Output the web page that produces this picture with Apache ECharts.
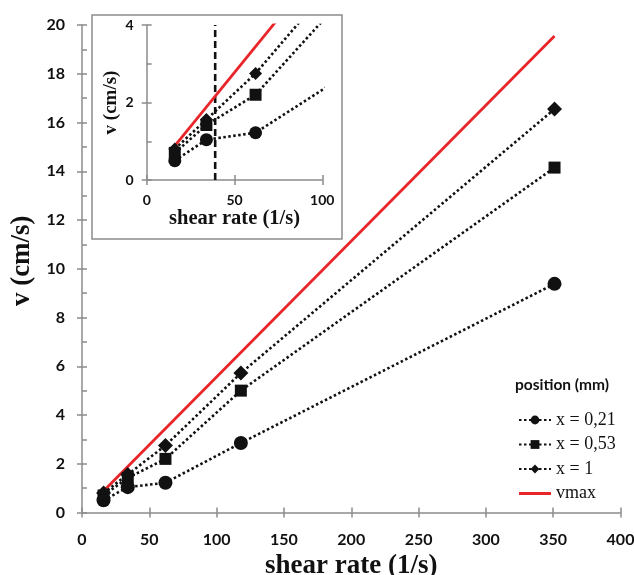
<!DOCTYPE html>
<html><head><meta charset="utf-8">
<script src="https://cdn.jsdelivr.net/npm/echarts@6/dist/echarts.min.js"></script>
<style>html,body{margin:0;padding:0;background:#fff}#c{width:634px;height:575px}</style>
</head><body><div id="c"></div>
<script>
// ---- data ----
const shearRate = [16, 34, 62, 118, 351];
const v021 = [0.50, 1.04, 1.22, 2.85, 9.38];
const v053 = [0.70, 1.42, 2.20, 5.00, 14.15];
const v1   = [0.80, 1.56, 2.75, 5.72, 16.55];
const vmaxX = [16, 351];
const vmaxY = [0.88, 19.55];
const thresholdX = 39;
const thresholdY = [0, 4];
const seriesNames = ['x = 0,21', 'x = 0,53', 'x = 1', 'vmax'];
const legendTitle = 'position (mm)';
const xTitle = 'shear rate (1/s)';
const yTitle = 'v (cm/s)';

const pairs = (xs, ys) => xs.map((x, i) => [x, ys[i]]);
const AX = '#8c8c8c';
const TXT = '#111';
const RED = '#e8262a';
const sans = 'Lato';
const serif = 'Liberation Serif';

function axis(opts) {
  const base = {
    type: 'value',
    axisLine: { show: true, lineStyle: { color: AX, width: 1.5 } },
    axisTick: { show: true, inside: false, length: 5, lineStyle: { color: AX, width: 1.5 } },
    splitLine: { show: false },
    axisLabel: { color: TXT, fontFamily: sans, fontWeight: 'bold', fontSize: 16 },
    nameLocation: 'middle',
    nameTextStyle: { color: TXT, fontFamily: serif, fontWeight: 'bold', fontSize: 27 }
  };
  return Object.assign(base, opts);
}
function overlay(opts) {
  return Object.assign({
    type: 'value',
    axisLine: { show: false },
    axisTick: { show: true, inside: true, length: 5, lineStyle: { color: AX, width: 1.5 } },
    axisLabel: { show: false },
    splitLine: { show: false }
  }, opts);
}

const dotted = { type: [2.5, 2.5], width: 2.6, color: TXT };
const blackItem = { color: TXT };

function dataSeries(xi, yi, sizes, clip) {
  return [
    { name: seriesNames[0], type: 'line', xAxisIndex: xi, yAxisIndex: yi, data: pairs(shearRate, v021),
      symbol: 'circle', symbolSize: sizes[0], lineStyle: dotted, itemStyle: blackItem, clip: clip, z: 3 },
    { name: seriesNames[1], type: 'line', xAxisIndex: xi, yAxisIndex: yi, data: pairs(shearRate, v053),
      symbol: 'rect', symbolSize: sizes[1], lineStyle: dotted, itemStyle: blackItem, clip: clip, z: 3 },
    { name: seriesNames[2], type: 'line', xAxisIndex: xi, yAxisIndex: yi, data: pairs(shearRate, v1),
      symbol: 'diamond', symbolSize: sizes[2], lineStyle: dotted, itemStyle: blackItem, clip: clip, z: 3 },
    { name: seriesNames[3], type: 'line', xAxisIndex: xi, yAxisIndex: yi, data: pairs(vmaxX, vmaxY),
      symbol: 'none', lineStyle: { color: RED, width: 2.8 }, itemStyle: { color: RED }, clip: clip, z: 2 }
  ];
}

const chart = echarts.init(document.getElementById('c'), null, { renderer: 'canvas' });
chart.setOption({
  animation: false,
  backgroundColor: '#fff',
  grid: [
    { left: 82, right: 13.5, top: 25, bottom: 62.5, containLabel: false, outerBoundsMode: 'none' },
    { left: 146.7, width: 175.6, top: 25, height: 155, containLabel: false, outerBoundsMode: 'none' }
  ],
  xAxis: [
    axis({ gridIndex: 0, min: 0, max: 400, interval: 50, name: xTitle, nameGap: 35,
      axisLabel: { color: TXT, fontFamily: sans, fontWeight: 'bold', fontSize: 16, margin: 19 } }),
    overlay({ gridIndex: 0, min: 0, max: 400, interval: 50, position: 'bottom' }),
    axis({ gridIndex: 1, min: 0, max: 100, interval: 50, name: xTitle, nameGap: 28,
      axisLabel: { color: TXT, fontFamily: sans, fontWeight: 'bold', fontSize: 14, margin: 13 },
      nameTextStyle: { color: TXT, fontFamily: serif, fontWeight: 'bold', fontSize: 20.5 } }),
    overlay({ gridIndex: 1, min: 0, max: 100, interval: 50, position: 'bottom' })
  ],
  yAxis: [
    axis({ gridIndex: 0, min: 0, max: 20, interval: 2, name: yTitle, nameGap: 44, position: 'left',
      axisLabel: { color: TXT, fontFamily: sans, fontWeight: 'bold', fontSize: 16, margin: 17 },
      nameTextStyle: { color: TXT, fontFamily: serif, fontWeight: 'bold', fontSize: 27, padding: [0, 0, 0, 16] } }),
    overlay({ gridIndex: 0, min: 0, max: 20, interval: 1, position: 'left' }),
    axis({ gridIndex: 1, min: 0, max: 4, interval: 2, name: yTitle, nameGap: 26, position: 'left',
      axisLabel: { color: TXT, fontFamily: sans, fontWeight: 'bold', fontSize: 14, margin: 13 },
      nameTextStyle: { color: TXT, fontFamily: serif, fontWeight: 'bold', fontSize: 19 } }),
    overlay({ gridIndex: 1, min: 0, max: 4, interval: 1, position: 'left' })
  ],
  title: {
    text: legendTitle, left: 510, top: 372,
    textStyle: { color: TXT, fontFamily: sans, fontWeight: 'bold', fontSize: 15.5 }
  },
  legend: {
    data: [
      { name: seriesNames[0] },
      { name: seriesNames[1] },
      { name: seriesNames[2] },
      { name: seriesNames[3], icon: 'path://M0,0H32V3H0Z', itemStyle: { color: RED } }
    ],
    orient: 'vertical', left: 513, top: 406,
    itemWidth: 32, itemHeight: 11, itemGap: 6.5,
    textStyle: { color: TXT, fontFamily: serif, fontSize: 18, lineHeight: 18 },
    selectedMode: false
  },
  graphic: [
    { type: 'rect', shape: { x: 92, y: 15, width: 250, height: 224 },
      style: { fill: 'none', stroke: AX, lineWidth: 1.5 }, z: 0, silent: true }
  ],
  series: [
    ...dataSeries(0, 0, [14, 12, 15], true),
    ...dataSeries(2, 2, [13, 12, 13], true),
    { name: 'threshold', type: 'line', xAxisIndex: 2, yAxisIndex: 2,
      data: thresholdY.map(y => [thresholdX, y]), symbol: 'none',
      lineStyle: { type: [7, 4], width: 2.6, color: TXT }, z: 1 }
  ]
});
</script></body></html>
